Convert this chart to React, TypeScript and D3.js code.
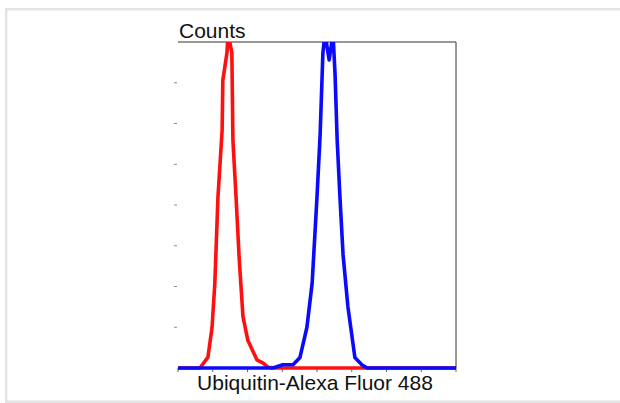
import * as d3 from "d3";
import React from "react";

// histogram traces, x in axis units (0-8), y in counts
const redX = [0, 0.63, 0.86, 0.98, 1.06, 1.15, 1.27, 1.29, 1.41, 1.44, 1.55, 1.58, 1.67, 1.76, 1.87, 2.01, 2.27, 2.45, 2.59, 2.8, 8];
const redY = [0, 0, 13, 50, 104, 210, 292, 353, 387, 410, 387, 280, 210, 135, 63, 34, 10, 6, 1, 0, 0];

const blueX = [0, 2.73, 3.02, 3.31, 3.51, 3.71, 3.86, 4.0, 4.09, 4.17, 4.23, 4.35, 4.46, 4.52, 4.58, 4.66, 4.75, 4.89, 5.09, 5.29, 5.44, 8];
const blueY = [0, 0, 4, 4, 13, 50, 104, 210, 286, 387, 410, 378, 410, 360, 280, 210, 139, 75, 13, 4, 0, 0];

const xTicks = [0, 1, 2, 3, 4, 5, 6, 7, 8];
const yTicks = [50, 100, 150, 200, 250, 300, 350];

const W = 620;
const H = 403;
const m = { left: 178, right: 456, top: 42, bottom: 368 };

export default function App() {
  const x = d3.scaleLinear().domain([0, 8]).range([m.left, m.right]);
  const y = d3.scaleLinear().domain([0, 400]).range([m.bottom, m.top]);

  const path = (xs: number[], ys: number[]) =>
    d3
      .line<number>()
      .x((i) => x(xs[i]))
      .y((i) => y(ys[i]))(xs.map((_, i) => i)) || "";

  return (
    <svg
      width={W}
      height={H}
      style={{ position: "fixed", left: 0, top: 0, background: "#fff" }}
      fontFamily="'Liberation Sans', Arial, sans-serif"
    >
      {/* outer grey frame, open on the right */}
      <path d={`M${W},9.2H6.2V401.8H${W}`} fill="none" stroke="#e4e4e4" strokeWidth={2.4} />
      <defs>
        <clipPath id="plot">
          <rect x={m.left} y={m.top} width={m.right - m.left + 2} height={m.bottom - m.top + 2} />
        </clipPath>
      </defs>

      {/* frame */}
      <line x1={m.left} x2={m.right} y1={m.top} y2={m.top} stroke="#333" strokeWidth={1} />
      <line x1={m.right} x2={m.right} y1={m.top} y2={m.bottom} stroke="#333" strokeWidth={1} />
      <line x1={m.left} x2={m.right} y1={m.bottom} y2={m.bottom} stroke="#333" strokeWidth={1} />

      {yTicks.map((t) => (
        <line key={t} x1={x(0) - 4} x2={x(0) - 1} y1={y(t)} y2={y(t)} stroke="#888" strokeWidth={1} />
      ))}
      {xTicks.map((t) => (
        <line key={t} x1={x(t)} x2={x(t)} y1={m.bottom} y2={m.bottom + 4} stroke="#666" strokeWidth={1} />
      ))}

      <g clipPath="url(#plot)" fill="none" strokeWidth={3.6} strokeLinejoin="round">
        <path d={path(redX, redY)} stroke="#ff1010" />
        <path d={path(blueX, blueY)} stroke="#0a0aff" />
      </g>

      <text x={m.left + 1} y={38} fontSize={21} fill="#111">
        Counts
      </text>
      <text x={(m.left + m.right) / 2 - 2} y={390} fontSize={21} fill="#111" textAnchor="middle">
        Ubiquitin-Alexa Fluor 488
      </text>
    </svg>
  );
}
